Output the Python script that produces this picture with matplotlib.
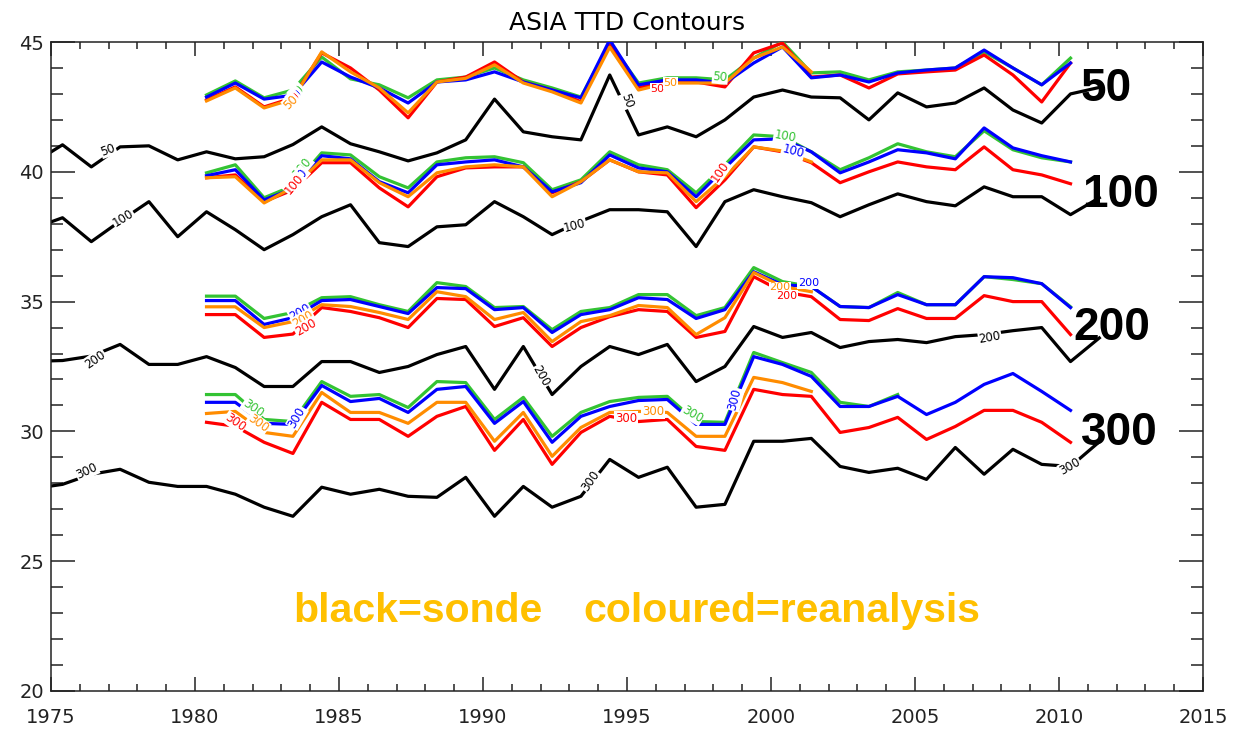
import matplotlib.pyplot as plt
from matplotlib.ticker import MultipleLocator

# sonde years (values sit at mid-year, year + 0.4)
sonde_years = list(range(1974, 2012))
rean_years = list(range(1980, 2011))
orange_years = list(range(1980, 2002))
green300_years = list(range(1980, 2005))

sonde_50 = [40.35, 41.04, 40.19, 40.96, 41.0, 40.46, 40.77, 40.5, 40.58, 41.05,
            41.73, 41.08, 40.77, 40.42, 40.73, 41.23, 42.8, 41.54, 41.35, 41.23,
            43.73, 41.42, 41.73, 41.35, 42.0, 42.88, 43.15, 42.88, 42.85, 42.0,
            43.04, 42.5, 42.65, 43.23, 42.38, 41.88, 43.0, 43.25]
sonde_100 = [37.83, 38.23, 37.31, 38.1, 38.85, 37.5, 38.46, 37.77, 37.0, 37.58,
             38.27, 38.73, 37.27, 37.12, 37.88, 37.96, 38.85, 38.27, 37.58, 38.1,
             38.54, 38.54, 38.46, 37.12, 38.85, 39.31, 39.04, 38.81, 38.27, 38.73,
             39.15, 38.85, 38.69, 39.42, 39.04, 39.04, 38.35, 39.0]
sonde_200 = [32.7, 32.73, 32.9, 33.35, 32.58, 32.58, 32.88, 32.46, 31.73, 31.73,
             32.69, 32.69, 32.27, 32.5, 32.96, 33.27, 31.62, 33.27, 31.42, 32.5,
             33.27, 32.96, 33.35, 31.92, 32.5, 34.04, 33.62, 33.81, 33.23, 33.46,
             33.54, 33.42, 33.65, 33.73, 33.88, 34.0, 32.69, 33.6]
sonde_300 = [27.8, 27.96, 28.35, 28.54, 28.04, 27.88, 27.88, 27.58, 27.08, 26.73,
             27.85, 27.58, 27.77, 27.5, 27.46, 28.23, 26.73, 27.88, 27.08, 27.5,
             28.92, 28.23, 28.62, 27.08, 27.19, 29.62, 29.62, 29.73, 28.65, 28.42,
             28.58, 28.15, 29.38, 28.35, 29.31, 28.73, 28.65, 29.6]

green_50 = [42.96, 43.5, 42.85, 43.15, 44.42, 43.58, 43.35, 42.85, 43.54, 43.65,
            44.0, 43.54, 43.23, 42.88, 44.96, 43.42, 43.62, 43.62, 43.54, 44.38,
            45.0, 43.81, 43.85, 43.54, 43.85, 43.92, 44.0, 44.62, 44.0, 43.35, 44.38]
blue_50 = [42.88, 43.42, 42.8, 42.95, 44.23, 43.65, 43.23, 42.65, 43.46, 43.54,
           43.85, 43.46, 43.15, 42.85, 45.08, 43.35, 43.54, 43.54, 43.42, 44.19,
           44.81, 43.62, 43.73, 43.46, 43.81, 43.92, 44.0, 44.69, 44.0, 43.35, 44.19]
red_50 = [42.77, 43.27, 42.5, 42.85, 44.58, 44.0, 43.15, 42.08, 43.46, 43.65,
          44.23, 43.46, 43.15, 42.7, 44.88, 43.23, 43.54, 43.46, 43.27, 44.58,
          44.96, 43.65, 43.73, 43.23, 43.77, 43.85, 43.92, 44.5, 43.73, 42.69, 44.19]
orange_50 = [42.73, 43.23, 42.46, 42.8, 44.62, 43.85, 43.23, 42.27, 43.46, 43.6,
             44.12, 43.42, 43.08, 42.65, 44.8, 43.15, 43.42, 43.42, 43.42, 44.38,
             44.81, 43.85]

green_100 = [39.96, 40.27, 39.0, 39.46, 40.73, 40.65, 39.81, 39.38, 40.38, 40.54,
             40.58, 40.35, 39.31, 39.69, 40.77, 40.27, 40.08, 39.19, 40.27, 41.42,
             41.35, 40.77, 40.08, 40.54, 41.08, 40.77, 40.58, 41.58, 40.85, 40.54, 40.38]
blue_100 = [39.85, 40.08, 38.92, 39.35, 40.62, 40.5, 39.62, 39.19, 40.27, 40.38,
            40.46, 40.19, 39.23, 39.58, 40.65, 40.15, 40.0, 39.04, 40.15, 41.23,
            41.27, 40.77, 39.96, 40.38, 40.85, 40.73, 40.5, 41.69, 40.92, 40.62, 40.38]
red_100 = [39.77, 39.88, 38.85, 39.3, 40.35, 40.35, 39.38, 38.65, 39.81, 40.15,
           40.19, 40.19, 39.19, 39.62, 40.46, 40.0, 39.88, 38.62, 39.69, 40.96,
           40.77, 40.35, 39.58, 40.0, 40.38, 40.19, 40.08, 40.96, 40.08, 39.88, 39.54]
orange_100 = [39.77, 39.81, 38.8, 39.4, 40.46, 40.46, 39.58, 39.04, 39.96, 40.19,
              40.27, 40.19, 39.04, 39.62, 40.46, 40.0, 39.96, 38.85, 39.81, 40.96,
              40.8, 40.38]

green_200 = [35.21, 35.21, 34.35, 34.58, 35.15, 35.19, 34.88, 34.62, 35.73, 35.58,
             34.77, 34.81, 33.92, 34.62, 34.77, 35.27, 35.27, 34.46, 34.77, 36.31,
             35.77, 35.58, 34.81, 34.77, 35.35, 34.88, 34.88, 35.96, 35.85, 35.69, 34.8]
blue_200 = [35.04, 35.04, 34.12, 34.38, 35.04, 35.08, 34.81, 34.54, 35.54, 35.5,
            34.69, 34.77, 33.81, 34.5, 34.69, 35.15, 35.08, 34.35, 34.69, 36.15,
            35.65, 35.58, 34.81, 34.77, 35.27, 34.88, 34.88, 35.96, 35.92, 35.69, 34.77]
red_200 = [34.5, 34.5, 33.62, 33.75, 34.77, 34.62, 34.38, 34.0, 35.12, 35.08,
           34.04, 34.38, 33.27, 34.0, 34.42, 34.69, 34.62, 33.62, 33.85, 35.96,
           35.38, 35.19, 34.31, 34.27, 34.73, 34.35, 34.35, 35.23, 35.0, 35.0, 33.73]
orange_200 = [34.8, 34.8, 34.0, 34.23, 34.88, 34.81, 34.58, 34.31, 35.38, 35.19,
              34.31, 34.58, 33.46, 34.23, 34.46, 34.85, 34.77, 33.73, 34.38, 36.12,
              35.58, 35.38]

green_300 = [31.42, 31.42, 30.46, 30.38, 31.92, 31.35, 31.42, 30.92, 31.92, 31.88,
             30.46, 31.31, 29.81, 30.73, 31.15, 31.31, 31.35, 30.38, 30.35, 33.04,
             32.65, 32.27, 31.12, 30.96, 31.42]
blue_300 = [31.12, 31.12, 30.31, 30.27, 31.77, 31.15, 31.27, 30.73, 31.62, 31.73,
            30.31, 31.15, 29.58, 30.58, 30.96, 31.19, 31.23, 30.27, 30.27, 32.88,
            32.58, 32.12, 30.96, 30.96, 31.35, 30.65, 31.12, 31.81, 32.23, 31.54, 30.81]
red_300 = [30.35, 30.2, 29.58, 29.15, 31.12, 30.46, 30.46, 29.81, 30.58, 30.96,
           29.27, 30.46, 28.73, 29.96, 30.58, 30.38, 30.46, 29.42, 29.27, 31.62,
           31.42, 31.35, 29.96, 30.15, 30.54, 29.69, 30.19, 30.81, 30.81, 30.35, 29.58]
orange_300 = [30.69, 30.77, 29.96, 29.81, 31.5, 30.73, 30.73, 30.31, 31.12, 31.12,
              29.62, 30.73, 29.04, 30.15, 30.73, 30.77, 30.73, 29.81, 29.81, 32.08,
              31.88, 31.54]

levels = ["50", "100", "200", "300"]
level_x = [2010.75, 2010.8, 2010.5, 2010.75]
level_y = [43.2, 39.1, 34.0, 29.95]

GREEN = "#33c333"
BLUE = "#0000ff"
RED = "#ff0000"
ORANGE = "#ff8c00"


def mid(years):
    return [y + 0.4 for y in years]


fig = plt.figure(figsize=(12.47, 7.29), dpi=100)
ax = fig.add_axes([51 / 1247, 1 - 691 / 729, 1152 / 1247, 649 / 729])

lw = 2.3
for vals in (sonde_50, sonde_100, sonde_200, sonde_300):
    ax.plot(mid(sonde_years), vals, color="black", lw=lw, zorder=2)

for g, b, r, o in ((green_50, blue_50, red_50, orange_50),
                   (green_100, blue_100, red_100, orange_100),
                   (green_200, blue_200, red_200, orange_200),
                   (green_300, blue_300, red_300, orange_300)):
    gy = rean_years if len(g) == len(rean_years) else green300_years
    ax.plot(mid(gy), g, color=GREEN, lw=lw, zorder=3)
    ax.plot(mid(rean_years), r, color=RED, lw=lw, zorder=3)
    ax.plot(mid(rean_years), b, color=BLUE, lw=lw, zorder=3)
    ax.plot(mid(orange_years), o, color=ORANGE, lw=lw, zorder=3)


def lab(x, y, s, color, rot, size=8.5):
    ax.text(x, y, s, color=color, fontsize=size, rotation=rot,
            ha="center", va="center", rotation_mode="anchor", zorder=4,
            bbox=dict(boxstyle="square,pad=0.05", facecolor="white",
                      edgecolor="none"))


# inline contour labels (sonde)
lab(1976.98, 40.85, "50", "black", 20)
lab(1977.5, 38.23, "100", "black", 32)
lab(1976.53, 32.77, "200", "black", 35)
lab(1976.25, 28.46, "300", "black", 25)
lab(1995.0, 42.73, "50", "black", -70)
lab(1993.19, 37.92, "100", "black", 15)
lab(1992.01, 32.12, "200", "black", -60)
lab(1993.75, 28.08, "300", "black", 55)
lab(2007.6, 33.62, "200", "black", 10)
lab(2010.38, 28.65, "300", "black", 30)

# inline contour labels (reanalyses)
lab(1983.54, 43.08, "50", GREEN, 45)
lab(1983.47, 42.92, "50", BLUE, 45)
lab(1983.4, 42.81, "50", RED, 45)
lab(1983.33, 42.69, "50", ORANGE, 45)
lab(1996.05, 43.2, "50", RED, 0, 8)
lab(1996.5, 43.42, "50", ORANGE, 0, 8)
lab(1998.23, 43.65, "50", GREEN, -5)
lab(1983.72, 40.19, "100", GREEN, 50)
lab(1983.58, 39.77, "100", BLUE, 50)
lab(1983.44, 39.54, "100", RED, 50)
lab(1998.23, 40.0, "100", RED, 55)
lab(2000.49, 41.35, "100", GREEN, -10)
lab(2000.76, 40.77, "100", BLUE, -15)
lab(1983.65, 34.58, "200", BLUE, 30)
lab(1983.75, 34.31, "200", ORANGE, 30)
lab(1983.85, 34.0, "200", RED, 30)
lab(2000.3, 35.55, "200", ORANGE, 0, 8)
lab(2000.55, 35.22, "200", RED, 0, 8)
lab(2001.3, 35.7, "200", BLUE, 0, 8)
lab(1982.01, 30.88, "300", GREEN, -35)
lab(1982.19, 30.31, "300", ORANGE, -35)
lab(1981.39, 30.35, "300", RED, -35)
lab(1983.54, 30.54, "300", BLUE, 60)
lab(1994.97, 30.5, "300", RED, 0)
lab(1995.9, 30.77, "300", ORANGE, 0)
lab(1997.26, 30.65, "300", GREEN, -30)
lab(1998.75, 31.23, "300", BLUE, 75)

# big level names at the right end
for s, xv, yv in zip(levels, level_x, level_y):
    ax.text(xv, yv, s, fontsize=33, fontweight="bold",
            family="Liberation Sans", ha="left", va="center", zorder=6)

note_kw = dict(color="#ffc000", fontsize=29.5, fontweight="bold",
               family="Liberation Sans", ha="left", va="baseline", zorder=6)
ax.text(1983.4, 22.65, "black=sonde", **note_kw)
ax.text(1993.5, 22.65, "coloured=reanalysis", **note_kw)

ax.set_xlim(1975, 2015)
ax.set_ylim(20, 45)
ax.xaxis.set_major_locator(MultipleLocator(5))
ax.xaxis.set_minor_locator(MultipleLocator(1))
ax.yaxis.set_major_locator(MultipleLocator(5))
ax.yaxis.set_minor_locator(MultipleLocator(1))
ax.tick_params(axis="both", which="both", direction="in", top=True,
               right=True, colors="#222222", labelsize=14, width=1.1)
ax.tick_params(axis="x", which="major", length=10, pad=12)
ax.tick_params(axis="x", which="minor", length=5)
ax.tick_params(axis="y", which="major", length=17, pad=5)
ax.tick_params(axis="y", which="minor", length=8.5)
for sp in ax.spines.values():
    sp.set_linewidth(1.1)
    sp.set_color("#222222")

ax.set_title("ASIA TTD Contours", fontsize=18, pad=9)

fig.savefig("out.png", dpi=100)
